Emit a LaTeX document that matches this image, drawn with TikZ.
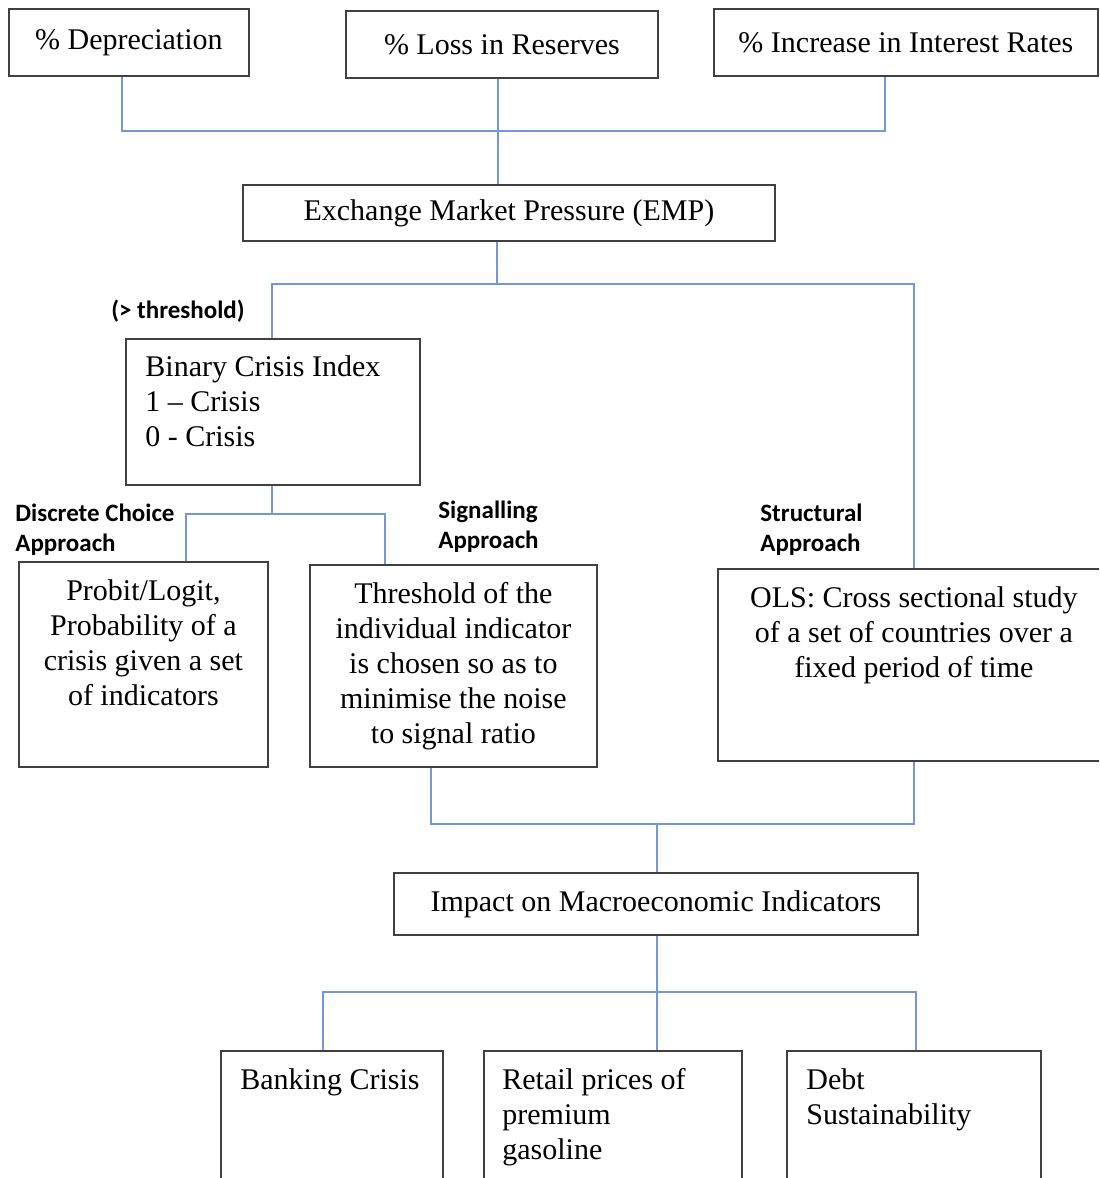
\documentclass[tikz,border=0pt]{standalone}
\usepackage{fontspec}
\setmainfont{Liberation Serif}
\newfontfamily\labelfont{Carlito}
\definecolor{linkblue}{RGB}{115,150,220}
\tikzset{
  box/.style={draw=black!75, line width=0.9pt, rectangle, inner sep=0pt, anchor=north west},
  boxtext/.style={inner sep=0pt, font=\fontsize{15}{17.5}\selectfont},
  tag/.style={inner sep=0pt, align=left, font=\labelfont\bfseries\fontsize{12.5}{15}\selectfont},
  link/.style={draw=linkblue, line width=0.8pt},
}
\begin{document}
\begin{tikzpicture}[x=0.5pt, y=-0.5pt]
  \useasboundingbox (0,0) rectangle (1099,1178);
  \clip (0,0) rectangle (1099,1178);

  % Top row
  \node[box, boxtext, minimum width=120pt, minimum height=33.5pt] (dep) at (8,8) {\% Depreciation};
  \node[box, boxtext, minimum width=156pt, minimum height=33.5pt] (loss) at (345,10) {\% Loss in Reserves};
  \node[box, boxtext, minimum width=192pt, minimum height=33.5pt] (rates) at (713,8) {\% Increase in Interest Rates};

  % EMP
  \node[box, boxtext, minimum width=266pt, minimum height=28pt] (emp) at (242,184) {Exchange Market Pressure (EMP)};

  % Binary index
  \node[box, minimum width=147pt, minimum height=73pt] (bin) at (125,338) {};
  \node[boxtext, anchor=north west, align=left] (bintext) at ([xshift=10pt,yshift=-8.5pt]bin.north west) {Binary Crisis Index\\1 -- Crisis\\0 - Crisis};

  % Approaches
  \node[box, minimum width=124.5pt, minimum height=102.5pt] (probit) at (18,561) {};
  \node[boxtext, anchor=north, align=center] (probittext) at ([yshift=-9pt]probit.north) {Probit/Logit,\\Probability of a\\crisis given a set\\of indicators};
  \node[box, minimum width=143.5pt, minimum height=101pt] (signal) at (309,564) {};
  \node[boxtext, anchor=north, align=center] (signaltext) at ([yshift=-9pt]signal.north) {Threshold of the\\individual indicator\\is chosen so as to\\minimise the noise\\to signal ratio};
  \node[box, minimum width=196pt, minimum height=96pt] (ols) at (717,568) {};
  \node[boxtext, anchor=north, align=center] (olstext) at ([yshift=-9pt]ols.north) {OLS: Cross sectional study\\of a set of countries over a\\fixed period of time};

  % Labels
  \node[tag, anchor=east] (thresh) at (245,311) {(> threshold)};
  \node[tag, anchor=west] (dclabel) at (15,530) {Discrete Choice\\Approach};
  \node[tag, anchor=west] (siglabel) at (438,527) {Signalling\\Approach};
  \node[tag, anchor=west] (strlabel) at (760,530) {Structural\\Approach};

  % Impact
  \node[box, boxtext, minimum width=262pt, minimum height=31pt] (impact) at (393,872) {Impact on Macroeconomic Indicators};

  % Bottom row
  \node[box, minimum width=111pt, minimum height=100pt] (bank) at (220,1050) {};
  \node[boxtext, anchor=north west, align=left] (banktext) at ([xshift=10pt,yshift=-9pt]bank.north west) {Banking Crisis};
  \node[box, minimum width=129pt, minimum height=100pt] (retail) at (483,1050) {};
  \node[boxtext, anchor=north west, align=left] (retailtext) at ([xshift=9.5pt,yshift=-9pt]retail.north west) {Retail prices of\\premium\\gasoline};
  \node[box, minimum width=127pt, minimum height=100pt] (debt) at (786,1050) {};
  \node[boxtext, anchor=north west, align=left] (debttext) at ([xshift=10pt,yshift=-9pt]debt.north west) {Debt\\Sustainability};

  % Junctions
  \coordinate (topbus) at (498,131);
  \coordinate (midbus) at (497,284);
  \coordinate (binbus) at (272,514);
  \coordinate (lowbus) at (657,824);
  \coordinate (botbus) at (657,992);

  % Connectors
  \draw[link] ([xshift=-3.5pt]dep.south) |- (topbus) -| ([xshift=-10.5pt]rates.south);
  \draw[link] (loss.south -| topbus) -- (topbus |- emp.north);
  \draw[link] (emp.south -| midbus) -- (midbus);
  \draw[link] (bin.north -| binbus) |- (midbus) -| (ols.north);
  \draw[link] (bin.south -| binbus) -- (binbus);
  \draw[link] ([xshift=21.25pt]probit.north) |- (binbus) -| ([xshift=-34.25pt]signal.north);
  \draw[link] ([xshift=-11.25pt]signal.south) |- (lowbus) -| (ols.south);
  \draw[link] (lowbus) -- (lowbus |- impact.north);
  \draw[link] (impact.south -| botbus) -- (botbus) -- (botbus |- retail.north);
  \draw[link] ([xshift=-4.5pt]bank.north) |- (botbus) -| ([xshift=1pt]debt.north);
\end{tikzpicture}
\end{document}
